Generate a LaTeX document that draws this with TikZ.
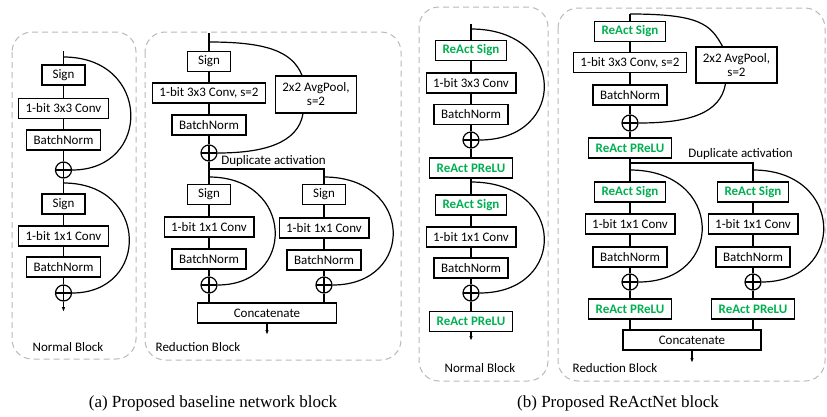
\documentclass[tikz,border=0pt]{standalone}
\usepackage{fontspec}
\setmainfont{Carlito}
\newfontfamily\capfont{Liberation Serif}
\usetikzlibrary{arrows.meta}
\definecolor{reactgreen}{RGB}{0,176,80}
\tikzset{
  blk/.style={draw, line width=1.3pt, inner xsep=7pt, inner ysep=0pt,
    minimum height=20pt, font=\fontsize{13}{14}\selectfont},
  sgn/.style={blk, minimum width=43pt},
  react/.style={blk, text=reactgreen, font=\fontsize{13}{14}\selectfont\bfseries},
  addop/.style={draw, circle, line width=1.2pt, minimum size=16pt, inner sep=0pt,
    path picture={\draw[line width=1.2pt]
      (path picture bounding box.north) -- (path picture bounding box.south)
      (path picture bounding box.west) -- (path picture bounding box.east);}},
  link/.style={line width=1.2pt},
  outarrow/.style={line width=1.2pt, -{Latex[length=5pt,width=3.5pt]}},
  frame/.style={draw=gray!55, dash pattern=on 6pt off 4pt, line width=1pt, rounded corners=20pt},
  lbl/.style={font=\fontsize{13}{14}\selectfont},
  caption/.style={font=\capfont\fontsize{17}{20}\selectfont}
}
\begin{document}
\begin{tikzpicture}[x=1pt,y=-1pt]
    \useasboundingbox (0,0) rectangle (827,416);

    % (a) Normal Block
    \draw[frame] (12,32) rectangle (136,359);
    \coordinate (tA1) at (63.5,51);
    \coordinate (sA1) at (63.5,57);
    \node[sgn] (sgnA1) at (63.5,75) {Sign};
    \node[blk] (convA1) at (63.5,108.5) {1-bit 3x3 Conv};
    \node[blk] (bnA1) at (63.5,140) {BatchNorm};
    \node[addop] (addA1) at (63.5,170) {};
    \coordinate (sA2) at (63.5,183);
    \node[sgn] (sgnA2) at (63.5,204) {Sign};
    \node[blk] (convA2) at (63.5,236) {1-bit 1x1 Conv};
    \node[blk] (bnA2) at (63.5,267) {BatchNorm};
    \node[addop] (addA2) at (63.5,293) {};
    \coordinate (endA1) at (63.5,312);
    \draw[link] (tA1) -- (sgnA1) -- (convA1) -- (bnA1) -- (addA1) -- (sgnA2) -- (convA2) -- (bnA2) -- (addA2);
    \draw[outarrow] (addA2) -- (endA1);
    \draw[link] (sA1) .. controls +(88,0) and +(80,0) .. (addA1.east);
    \draw[link] (sA2) .. controls +(86,0) and +(78,0) .. (addA2.east);
    \node[lbl] (nameA1) at (68,347) {Normal Block};

    % (a) Reduction Block
    \draw[frame] (145,32) rectangle (401,360);
    \coordinate (tA3) at (209,33);
    \coordinate (sA3) at (209,42);
    \node[sgn] (sgnA3) at (209,61.5) {Sign};
    \node[blk] (convA3) at (209,93) {1-bit 3x3 Conv, s=2};
    \node[blk, minimum height=37pt, align=center] (poolA) at (316,94.5) {2x2 AvgPool,\\s=2};
    \node[blk] (bnA3) at (209,125) {BatchNorm};
    \node[addop] (addA3) at (209,153) {};
    \node[lbl] (dupA) at (273.5,161) {Duplicate activation};
    \coordinate (splitA) at (209,169);
    \coordinate (sA4) at (209,177);
    \node[sgn] (sgnA4) at (209,194.5) {Sign};
    \node[blk] (convA4) at (209,227) {1-bit 1x1 Conv};
    \node[blk] (bnA4) at (209,259) {BatchNorm};
    \node[addop] (addA4) at (209,285) {};
    \coordinate (sA5) at (324,177);
    \node[sgn] (sgnA5) at (324,194.5) {Sign};
    \node[blk] (convA5) at (324,228) {1-bit 1x1 Conv};
    \node[blk] (bnA5) at (324,260) {BatchNorm};
    \node[addop] (addA5) at (324,285) {};
    \node[blk, minimum width=139pt] (catA) at (267,313) {Concatenate};
    \coordinate (endA3) at (267,335);
    \draw[link] (tA3) -- (sgnA3) -- (convA3) -- (bnA3) -- (addA3) -- (sgnA4) -- (convA4) -- (bnA4) -- (addA4);
    \draw[link] (splitA) -| (sgnA5);
    \draw[link] (sgnA5) -- (convA5) -- (bnA5) -- (addA5);
    \draw[link] (addA4) -- (addA4 |- catA.north);
    \draw[link] (addA5) -- (addA5 |- catA.north);
    \draw[outarrow] (catA) -- (endA3);
    \draw[link] (sA3) .. controls +(55,0) and +(-10,-25) .. ([xshift=-14pt]poolA.north);
    \draw[link] ([xshift=-13pt]poolA.south) .. controls +(-5,30) and +(45,0) .. (addA3.east);
    \draw[link] (sA4) .. controls +(86,0) and +(79,0) .. (addA4.east);
    \draw[link] (sA5) .. controls +(90,0) and +(83,0) .. (addA5.east);
    \node[lbl] (nameA3) at (198,347) {Reduction Block};

    % (b) Normal Block
    \draw[frame] (419,7) rectangle (548,381);
    \coordinate (tB1) at (471,24);
    \coordinate (sB1) at (471,29);
    \node[react] (sgnB1) at (471,50.5) {ReAct Sign};
    \node[blk] (convB1) at (471,83) {1-bit 3x3 Conv};
    \node[blk] (bnB1) at (471,114.5) {BatchNorm};
    \node[addop] (addB1) at (471,140) {};
    \node[react] (preluB1) at (471,168) {ReAct PReLU};
    \coordinate (sB2) at (471,182);
    \node[react] (sgnB2) at (471,205) {ReAct Sign};
    \node[blk] (convB2) at (471,237) {1-bit 1x1 Conv};
    \node[blk] (bnB2) at (471,268) {BatchNorm};
    \node[addop] (addB2) at (471,293) {};
    \node[react] (preluB2) at (471,321.5) {ReAct PReLU};
    \coordinate (endB1) at (471,341);
    \draw[link] (tB1) -- (sgnB1) -- (convB1) -- (bnB1) -- (addB1) -- (preluB1) -- (sgnB2) -- (convB2) -- (bnB2) -- (addB2) -- (preluB2);
    \draw[outarrow] (preluB2) -- (endB1);
    \draw[link] (sB1) .. controls +(96,0) and +(88,0) .. (addB1.east);
    \draw[link] (sB2) .. controls +(96,0) and +(88,0) .. (addB2.east);
    \node[lbl] (nameB1) at (480,368) {Normal Block};

    % (b) Reduction Block
    \draw[frame] (558,8) rectangle (825,381);
    \coordinate (sB3) at (630,14);
    \node[react] (sgnB3) at (630,31.5) {ReAct Sign};
    \node[blk] (convB3) at (630,62.5) {1-bit 3x3 Conv, s=2};
    \node[blk, minimum height=36pt, align=center] (poolB) at (736.5,65) {2x2 AvgPool,\\s=2};
    \node[blk] (bnB3) at (630,95) {BatchNorm};
    \node[addop] (addB3) at (630,123) {};
    \node[react] (preluB3) at (630,148) {ReAct PReLU};
    \node[lbl] (dupB) at (740.5,154) {Duplicate activation};
    \coordinate (splitB) at (630,163);
    \coordinate (sB4) at (630,170);
    \node[react] (sgnB4) at (630,192) {ReAct Sign};
    \node[blk] (convB4) at (630,224) {1-bit 1x1 Conv};
    \node[blk] (bnB4) at (630,257) {BatchNorm};
    \node[addop] (addB4) at (630,282) {};
    \node[react] (preluB4) at (630,309) {ReAct PReLU};
    \coordinate (sB5) at (753,170);
    \node[react] (sgnB5) at (753,192) {ReAct Sign};
    \node[blk] (convB5) at (753,224) {1-bit 1x1 Conv};
    \node[blk] (bnB5) at (753,257) {BatchNorm};
    \node[addop] (addB5) at (753,282) {};
    \node[react] (preluB5) at (753,309) {ReAct PReLU};
    \node[blk, minimum width=138pt] (catB) at (692,340) {Concatenate};
    \coordinate (endB3) at (692,363);
    \draw[link] (sB3) -- (sgnB3) -- (convB3) -- (bnB3) -- (addB3) -- (preluB3) -- (sgnB4) -- (convB4) -- (bnB4) -- (addB4) -- (preluB4);
    \draw[link] (splitB) -| (sgnB5);
    \draw[link] (sgnB5) -- (convB5) -- (bnB5) -- (addB5) -- (preluB5);
    \draw[link] (preluB4) -- (preluB4 |- catB.north);
    \draw[link] (preluB5) -- (preluB5 |- catB.north);
    \draw[outarrow] (catB) -- (endB3);
    \draw[link] (sB3) .. controls +(70,0) and +(-12,-22) .. ([xshift=-14pt]poolB.north);
    \draw[link] ([xshift=-11pt]poolB.south) .. controls +(-5,30) and +(50,0) .. (addB3.east);
    \draw[link] (sB4) .. controls +(94,0) and +(87,0) .. (addB4.east);
    \draw[link] (sB5) .. controls +(92,0) and +(85,0) .. (addB5.east);
    \node[lbl] (nameB3) at (615,368) {Reduction Block};

    % captions
    \node[caption] (capA) at (213,403) {(a) Proposed baseline network block};
    \node[caption] (capB) at (618,403) {(b) Proposed ReActNet block};
\end{tikzpicture}
\end{document}
